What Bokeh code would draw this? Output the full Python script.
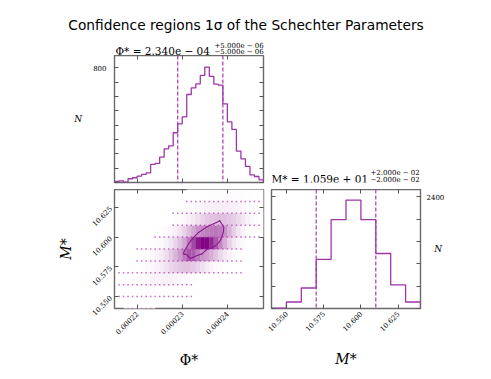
import numpy as np
from math import pi
from bokeh.plotting import figure
from bokeh.layouts import column, row
from bokeh.models import (Range1d, FixedTicker, Span, LinearColorMapper, ColumnDataSource,
                          LinearAxis)
from bokeh.core.properties import value
from bokeh.transform import transform
from bokeh.embed import file_html
from bokeh.resources import INLINE

# ---------------- data ----------------
title_text = "Confidence regions 1σ of the Schechter Parameters"

phi_best, phi_err_plus, phi_err_minus = 2.340e-04, 5.0e-06, 5.0e-06
m_best, m_err_plus, m_err_minus = 10.59, 2.0e-02, 2.0e-02

phi_lo, phi_hi, phi_nbins = 0.000215, 0.000248, 33
m_lo, m_hi, m_nbins = 10.54, 10.64, 10

phi_counts = [7, 12, 2, 26, 33, 44, 56, 67, 126, 133, 177, 235, 256, 347, 409, 458, 614,
              660, 688, 747, 805, 740, 686, 679, 549, 423, 370, 219, 165, 112, 53, 42, 19]
m_counts = [10, 140, 440, 1053, 1907, 2327, 1907, 1180, 507, 140]

# joint counts: rows are M* bins from 10.54 upward, columns are Phi* bins
joint_counts = [
    [0, 0, 1, 1, 2, 2, 2, 1, 1, 0, 0, 0, 0, 0, 0, 0, 0, 0, 0, 0, 0, 0, 0, 0, 0, 0, 0, 0, 0, 0, 0, 0, 0],
    [0, 3, 4, 5, 7, 8, 10, 11, 12, 12, 12, 11, 10, 9, 8, 7, 6, 5, 0, 0, 0, 0, 0, 0, 0, 0, 0, 0, 0, 0, 0, 0, 0],
    [0, 4, 6, 9, 13, 17, 22, 27, 32, 36, 38, 39, 38, 35, 30, 25, 20, 15, 0, 0, 0, 0, 0, 0, 0, 0, 0, 0, 0, 0, 0, 0, 0],
    [0, 1, 2, 4, 6, 9, 14, 20, 28, 38, 50, 62, 76, 88, 96, 100, 100, 94, 82, 66, 50, 36, 24, 15, 9, 5, 2, 1, 1, 0, 0, 0, 0],
    [0, 0, 0, 0, 0, 8, 12, 18, 26, 38, 52, 70, 92, 116, 140, 168, 200, 196, 168, 150, 140, 122, 100, 76, 54, 36, 22, 12, 6, 0, 0, 0, 0],
    [0, 0, 0, 0, 0, 2, 3, 6, 10, 17, 27, 40, 57, 79, 104, 133, 168, 210, 244, 262, 258, 236, 200, 160, 122, 84, 54, 32, 17, 0, 0, 0, 0],
    [0, 0, 0, 0, 0, 0, 0, 0, 0, 7, 12, 20, 30, 44, 62, 84, 108, 130, 148, 160, 166, 170, 172, 168, 150, 120, 88, 58, 34, 18, 8, 3, 1],
    [0, 0, 0, 0, 0, 0, 0, 0, 0, 0, 0, 0, 0, 10, 17, 26, 38, 52, 66, 80, 92, 100, 105, 106, 104, 98, 88, 74, 56, 38, 22, 12, 6],
    [0, 0, 0, 0, 0, 0, 0, 0, 0, 0, 0, 0, 0, 3, 6, 10, 15, 20, 26, 32, 37, 41, 44, 46, 46, 44, 40, 34, 26, 18, 11, 6, 2],
    [0, 0, 0, 0, 0, 0, 0, 0, 0, 0, 0, 0, 0, 0, 0, 0, 2, 3, 4, 6, 8, 10, 12, 13, 14, 14, 13, 12, 10, 8, 6, 4, 2],
]

# 1-sigma contour (Phi*, M*)
contour_phi = [0.0002383, 0.0002392, 0.0002391, 0.0002385, 0.0002377, 0.0002366, 0.0002355,
               0.0002344, 0.0002333, 0.0002318, 0.0002310, 0.0002302, 0.0002307, 0.0002315,
               0.0002326, 0.0002337, 0.0002352, 0.0002366, 0.0002377]
contour_m = [10.614, 10.608, 10.604, 10.5976, 10.5937, 10.591, 10.5898,
             10.5859, 10.5845, 10.5820, 10.5853, 10.5859, 10.5898, 10.5949,
             10.6002, 10.6041, 10.608, 10.6105, 10.6124]

phi_ticks = [0.00022, 0.00023, 0.00024]
phi_tick_labels = ["0.00022", "0.00023", "0.00024"]
m_ticks = [10.55, 10.575, 10.60, 10.625]
m_tick_labels = ["10.550", "10.575", "10.600", "10.625"]
n_phi_ticks = [0, 100, 200, 300, 400, 500, 600, 700, 800]
n_phi_tick_labels = ["", "", "", "", "", "", "", "", "800"]
n_m_ticks = [0, 480, 960, 1440, 1920, 2400]
n_m_tick_labels = ["", "", "", "", "", "2400"]
n_phi_max = 886
n_m_max = 2554

# ---------------- style ----------------
LINE = "#a035a8"
DASH = "#a83aae"
CONTOUR = "#8a1890"
TICK = "#555555"
FRAME = "#6a6a6a"
SERIF = "DejaVu Serif"


def base_fig(w, h, xr, yr, bl, br, bt, bb, xloc, yloc):
    p = figure(width=w, height=h, x_range=xr, y_range=yr, title=None,
               output_backend="svg", toolbar_location=None,
               x_axis_location=xloc, y_axis_location=yloc,
               min_border_left=bl, min_border_right=br,
               min_border_top=bt, min_border_bottom=bb)
    p.grid.grid_line_color = None
    p.outline_line_color = FRAME
    p.outline_line_width = 1.4
    p.background_fill_color = "white"
    p.border_fill_color = "white"
    return p


def text_fig(w, h):
    p = figure(width=w, height=h, x_range=Range1d(0, w), y_range=Range1d(0, h), title=None,
               output_backend="svg", toolbar_location=None,
               x_axis_location=None, y_axis_location=None,
               min_border_left=0, min_border_right=0, min_border_top=0, min_border_bottom=0)
    p.grid.grid_line_color = None
    p.outline_line_color = None
    p.background_fill_color = "white"
    p.border_fill_color = "white"
    return p


def put_text(p, x, y, txt, size, font=SERIF, align="left", style="normal"):
    p.text(x=[x], y=[y], text=[txt], text_font=value(font), text_font_size=value(size),
           text_font_style=style, text_align=align, text_baseline="alphabetic",
           text_color="black")


def style_axis(ax, ticks, labels, orient=None):
    ax.ticker = FixedTicker(ticks=ticks)
    ax.major_label_overrides = {t: l for t, l in zip(ticks, labels)}
    ax.major_tick_in = 4
    ax.major_tick_out = 0
    ax.minor_tick_line_color = None
    ax.axis_line_color = None
    ax.major_tick_line_color = TICK
    ax.major_label_text_font = SERIF
    ax.major_label_text_font_size = "7px"
    ax.major_label_text_color = "black"
    ax.major_label_standoff = 4
    if orient is not None:
        ax.major_label_orientation = orient


def inner_axis(p, ticks, side):
    ax = LinearAxis(ticker=FixedTicker(ticks=ticks),
                    major_label_overrides={t: "" for t in ticks},
                    major_label_text_font_size="1px", major_label_standoff=0,
                    major_tick_in=4, major_tick_out=0, minor_tick_line_color=None,
                    axis_line_color=None, major_tick_line_color=TICK)
    p.add_layout(ax, side)


def axis_title(ax, txt, size, style, standoff, horizontal=False):
    ax.axis_label = txt
    ax.axis_label_text_font = SERIF
    ax.axis_label_text_font_size = size
    ax.axis_label_text_font_style = style
    ax.axis_label_text_color = "black"
    ax.axis_label_standoff = standoff
    if horizontal and "axis_label_orientation" in ax.properties():
        ax.axis_label_orientation = "horizontal"


def step_outline(edges, counts):
    xs = np.repeat(edges, 2)
    ys = np.concatenate([[0], np.repeat(np.asarray(counts, float), 2), [0]])
    return xs, ys


def fmt(v):
    s = f"{v:.3e}"
    return s.replace("e-", "e − ").replace("e+", "e + ")


phi_edges = np.linspace(phi_lo, phi_hi, phi_nbins + 1)
m_edges = np.linspace(m_lo, m_hi, m_nbins + 1)

# ---------------- header band: figure title + Phi* title ----------------
t_top = text_fig(491, 55)
put_text(t_top, 245.5, 55 - 24.5, title_text, "13.75px", font="DejaVu Sans", align="center")
put_text(t_top, 115, 5, "Φ* = " + fmt(phi_best), "10.5px")
put_text(t_top, 214, 10, "+" + fmt(phi_err_plus), "7px")
put_text(t_top, 214, 3.5, "−" + fmt(phi_err_minus), "7px")

# ---------------- top: Phi* histogram ----------------
p_top = base_fig(266, 134, Range1d(phi_lo, phi_hi), Range1d(0, n_phi_max),
                 114, 3, 0, 7, None, "left")
style_axis(p_top.yaxis[0], n_phi_ticks, n_phi_tick_labels)
p_top.yaxis[0].major_label_standoff = 8
axis_title(p_top.yaxis[0], "N", "9px", "italic", 8, horizontal=True)
sx, sy = step_outline(phi_edges, phi_counts)
p_top.line(sx, sy, line_color=LINE, line_width=1.3)
for loc in (phi_best - phi_err_minus, phi_best + phi_err_plus):
    p_top.add_layout(Span(location=loc, dimension="height", line_color=DASH,
                          line_dash="4 2", line_width=1.2))
inner_axis(p_top, phi_ticks, "below")
inner_axis(p_top, phi_ticks, "above")
inner_axis(p_top, n_phi_ticks, "right")

# ---------------- right of top: M* title ----------------
t_right = text_fig(225, 134)
put_text(t_right, 5, 3.5, "M* = " + fmt(m_best), "10.5px")
put_text(t_right, 104, 9.5, "+" + fmt(m_err_plus), "7px")
put_text(t_right, 104, 2.5, "−" + fmt(m_err_minus), "7px")

# ---------------- bottom-left: joint distribution ----------------
p_bl = base_fig(265, 182, Range1d(phi_lo, phi_hi), Range1d(m_lo, m_hi),
                114, 2, 0, 54, "below", "left")
style_axis(p_bl.xaxis[0], phi_ticks, phi_tick_labels, pi / 4)
style_axis(p_bl.yaxis[0], m_ticks, m_tick_labels, pi / 4)
axis_title(p_bl.xaxis[0], "Φ*", "14px", "normal", 12)
axis_title(p_bl.yaxis[0], "M*", "14px", "italic", 12)

jc = np.asarray(joint_counts, float)
jj, kk = np.nonzero(jc)
cells = ColumnDataSource(dict(left=phi_edges[kk], right=phi_edges[kk + 1],
                              bottom=m_edges[jj], top=m_edges[jj + 1], c=jc[jj, kk]))
palette = []
for t in np.linspace(0, 1, 256):
    s = t ** 1.5
    r = int(round(255 - (255 - 128) * s))
    g = int(round(255 - 255 * s))
    b = int(round(255 - (255 - 128) * s))
    palette.append(f"#{r:02x}{g:02x}{b:02x}")
mapper = LinearColorMapper(palette=palette, low=0, high=jc.max())
p_bl.quad(left="left", right="right", bottom="bottom", top="top", source=cells,
          fill_color=transform("c", mapper), line_color=transform("c", mapper),
          line_width=0.4)
dots = ColumnDataSource(dict(x=phi_edges[kk], y=m_edges[jj]))
p_bl.scatter("x", "y", source=dots, marker="square", size=1.5,
             fill_color="#b040b0", line_color=None, fill_alpha=0.75)
p_bl.patch(contour_phi, contour_m, fill_color=None, line_color=CONTOUR, line_width=1.1)
inner_axis(p_bl, phi_ticks, "above")
inner_axis(p_bl, m_ticks, "right")

# ---------------- bottom-right: M* histogram ----------------
p_br = base_fig(195, 182, Range1d(m_lo, m_hi), Range1d(0, n_m_max),
                6, 40, 0, 54, "below", "right")
style_axis(p_br.xaxis[0], m_ticks, m_tick_labels, pi / 4)
style_axis(p_br.yaxis[0], n_m_ticks, n_m_tick_labels)
p_br.yaxis[0].major_label_standoff = 6
axis_title(p_br.xaxis[0], "M*", "14px", "italic", 14)
axis_title(p_br.yaxis[0], "N", "9px", "italic", -13, horizontal=True)
mx, my = step_outline(m_edges, m_counts)
p_br.line(mx, my, line_color=LINE, line_width=1.3)
for loc in (m_best - m_err_minus, m_best + m_err_plus):
    p_br.add_layout(Span(location=loc, dimension="height", line_color=DASH,
                         line_dash="4 2", line_width=1.2))
inner_axis(p_br, m_ticks, "above")
inner_axis(p_br, n_m_ticks, "left")

layout = column(t_top, row(p_top, t_right), row(p_bl, p_br))
open("out.html", "w").write(file_html(layout, INLINE))
